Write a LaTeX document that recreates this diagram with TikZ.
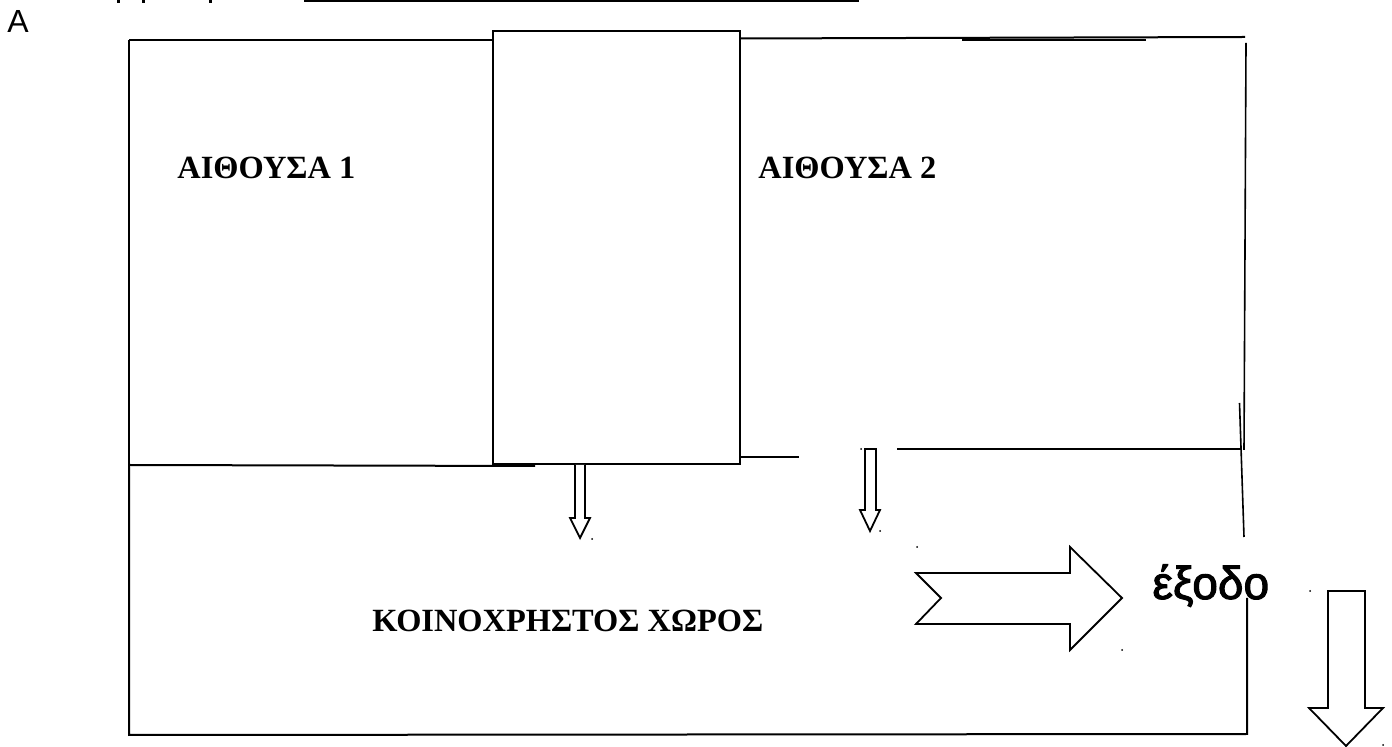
\documentclass[tikz,border=0pt]{standalone}
\usepackage{fontspec}
\setmainfont{Liberation Serif}
\setsansfont{Liberation Sans}
\newfontfamily\exitfont[FakeBold=2.2]{Liberation Sans}
\begin{document}
\begin{tikzpicture}[x=0.5pt,y=-0.5pt,
  wall/.style={draw=black,line width=1pt,line cap=butt},
  thinwall/.style={draw=black,line width=0.8pt},
  arrowshape/.style={draw=black,line width=0.9pt,fill=white,line join=miter},
  roomlabel/.style={font=\rmfamily\bfseries\fontsize{16.2}{18}\selectfont,inner sep=0pt,anchor=base west}]
\useasboundingbox (0,0) rectangle (1392,747);
% cut-off text remnants at the top edge
\fill[black] (117,0) rectangle (120,3);
\fill[black] (142,0) rectangle (145,3);
\fill[black] (209,0) rectangle (212,3);
\draw[wall] (304,0.7) -- (859,0.7);
\node[font=\sffamily\fontsize{16}{18}\selectfont,inner sep=0pt,anchor=base west] (a) at (7,33) {A};
% outer walls
\coordinate (tl) at (129,40);
\coordinate (bl) at (129,465);
\draw[wall] (tl) -- (493,40);
\draw[wall] (tl) -- (bl);
\draw[wall] (741,38.5) -- (1245,37);
\draw[wall] (962,40) -- (1146,40);
\draw[thinwall] (1246,43) -- (1244,450);
\draw[thinwall] (1239.5,403) -- (1244,537);
\draw[wall] (897,449) -- (1241,449);
\draw[wall] (741,457) -- (799,457);
\draw[wall] (bl) -- (535,466);
% central room
\node[draw=black,line width=1pt,outer sep=0pt,minimum width=123.5pt,minimum height=216.5pt,inner sep=0pt,anchor=center] (room) at (616.5,247.5) {};
% lower walls
\draw[wall] (129,465) -- (129,735) -- (1247,734) -- (1247,598);
% small arrows
\draw[arrowshape] (575,465) -- (575,518) -- (570,518) -- (580,538) -- (590,518) -- (585,518) -- (585,465);
\draw[arrowshape] (865,449) -- (865,510) -- (860,510) -- (870,531) -- (880,510) -- (876,510) -- (876,449) -- cycle;
% big right arrow
\draw[arrowshape] (916,573) -- (1070,573) -- (1070,547) -- (1122,598) -- (1070,650) -- (1070,624) -- (916,624) -- (941,598) -- cycle;
% big down arrow
\draw[arrowshape] (1328,591) -- (1365,591) -- (1365,708) -- (1383,708) -- (1346,746) -- (1309,708) -- (1328,708) -- cycle;
% labels
\node[roomlabel] (a1) at (177,179) {ΑΙΘΟΥΣΑ 1};
\node[roomlabel] (a2) at (758,179) {ΑΙΘΟΥΣΑ 2};
\node[roomlabel] (k) at (372,632) {ΚΟΙΝΟΧΡΗΣΤΟΣ ΧΩΡΟΣ};
\node[font=\exitfont\fontsize{23}{25}\selectfont,inner sep=0pt,anchor=base west] (e) at (1152,599) {έξοδο};
% specks
\foreach \p in {(592,539),(880,531),(917,547),(1122,650),(1310,591),(1383,745),(861,449)}
  \fill[black] \p circle (1);
\end{tikzpicture}
\end{document}
